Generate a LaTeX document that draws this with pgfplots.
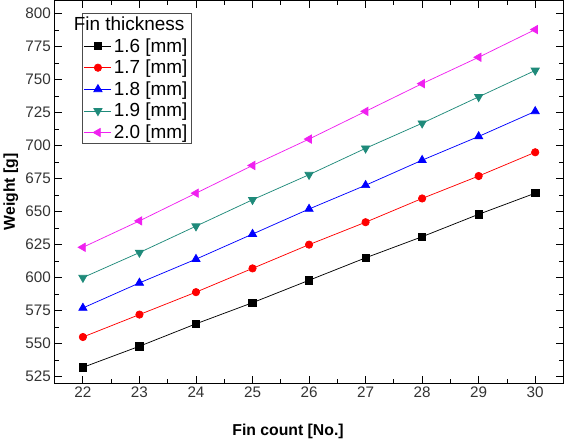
\documentclass[border=0pt]{standalone}
\usepackage{fontspec}
\setmainfont{Liberation Sans}
\usepackage{pgfplots}
\pgfplotsset{compat=1.18}
\definecolor{fteal}{HTML}{1F8A7A}
\definecolor{fmag}{HTML}{F020F0}
\begin{document}
\begin{tikzpicture}
\begin{axis}[
  scale only axis,
  width=484pt,height=364pt,
  xmin=21.5,xmax=30.5,ymin=520,ymax=810,
  xtick={22,...,30},ytick={525,550,...,800},
  minor x tick num=1,minor y tick num=1,
  tick align=inside,
  major tick length=7pt,minor tick length=4pt,
  axis line style={line width=1pt},
  every tick/.style={black,line width=0.8pt},
  /pgf/number format/assume math mode=true,
  /pgf/number format/1000 sep={},
  tick label style={font=\fontsize{14.5}{16}\selectfont,text=black!80},
  xlabel={\textbf{Fin count [No.]}},
  ylabel={\textbf{Weight [g]}},
  label style={font=\fontsize{15}{17}\selectfont},
  xlabel style={yshift=-18pt,xshift=-20pt},
  ylabel style={yshift=0pt},
  legend cell align=left,
  legend style={at={(0.054,0.968)},anchor=north west,draw=black!70,line width=0.8pt,
    font=\fontsize{18}{20}\selectfont,inner sep=1.5pt,row sep=2pt},
  legend image code/.code={\draw[mark repeat=2,mark phase=2,#1] plot coordinates {(0cm,0cm) (0.45cm,0cm) (0.9cm,0cm)};},
  every axis plot/.append style={line width=0.7pt,mark size=3.5pt},
]
\addlegendimage{empty legend}
\addlegendentry{\hspace{-38pt}Fin thickness}
\addplot[black,mark=square*] coordinates {(22,532)(23,548)(24,565)(25,581)(26,598)(27,615)(28,631)(29,648)(30,664)};
\addlegendentry{1.6 [mm]}
\addplot[red,mark=*,mark options={fill=red}] coordinates {(22,555)(23,572)(24,589)(25,607)(26,625)(27,642)(28,660)(29,677)(30,695)};
\addlegendentry{1.7 [mm]}
\addplot[blue,mark=triangle*,mark size=4.5pt] coordinates {(22,577)(23,596)(24,614)(25,633)(26,652)(27,670)(28,689)(29,707)(30,726)};
\addlegendentry{1.8 [mm]}
\addplot[fteal,mark=triangle*,mark options={rotate=180},mark size=4.5pt] coordinates {(22,600)(23,619)(24,639)(25,659)(26,678)(27,698)(28,717)(29,737)(30,757)};
\addlegendentry{1.9 [mm]}
\addplot[fmag,mark=triangle*,mark options={rotate=90},mark size=4.5pt] coordinates {(22,623)(23,643)(24,664)(25,685)(26,705)(27,726)(28,747)(29,767)(30,788)};
\addlegendentry{2.0 [mm]}
\end{axis}
\end{tikzpicture}
\end{document}
